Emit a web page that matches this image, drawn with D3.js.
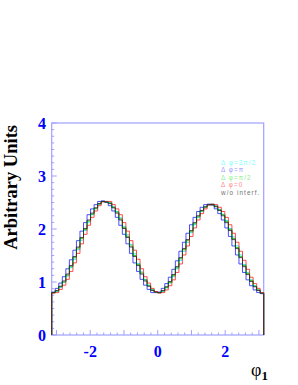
<!DOCTYPE html>
<html><head><meta charset="utf-8">
<script src="https://cdn.jsdelivr.net/npm/d3@7"></script>
<style>body{margin:0;background:#fff}svg{display:block}</style>
</head><body>
<script>
const xTicks = [-2, 0, 2];
const yTicks = [0, 1, 2, 3, 4];
const legendLabels = ["\u0394 \u03c6=3\u03c0/2", "\u0394 \u03c6=\u03c0", "\u0394 \u03c6=\u03c0/2", "\u0394 \u03c6=0", "w/o interf."];
const cyan = [0.80,0.82,0.90,0.99,1.11,1.27,1.43,1.61,1.79,1.97,2.13,2.27,2.38,2.47,2.52,2.52,2.50,2.42,2.33,2.21,2.05,1.89,1.71,1.53,1.35,1.19,1.05,0.94,0.86,0.81,
  0.80,0.82,0.89,0.98,1.10,1.25,1.41,1.58,1.75,1.93,2.08,2.22,2.33,2.41,2.46,2.47,2.44,2.37,2.28,2.16,2.01,1.85,1.68,1.51,1.33,1.18,1.04,0.93,0.85,0.79];
const blue = [0.81,0.88,0.98,1.10,1.25,1.42,1.60,1.78,1.96,2.12,2.27,2.38,2.46,2.52,2.53,2.50,2.44,2.34,2.22,2.07,1.90,1.72,1.54,1.36,1.20,1.05,0.94,0.86,0.80,0.80,
  0.81,0.88,0.97,1.09,1.24,1.40,1.58,1.75,1.92,2.08,2.22,2.33,2.41,2.46,2.47,2.45,2.38,2.29,2.17,2.02,1.86,1.68,1.51,1.34,1.18,1.04,0.93,0.85,0.80,0.78];
const green = [0.80,0.83,0.91,1.00,1.13,1.29,1.46,1.64,1.82,1.99,2.15,2.28,2.39,2.47,2.52,2.51,2.49,2.41,2.32,2.19,2.03,1.86,1.68,1.50,1.33,1.17,1.04,0.93,0.85,0.81,
  0.80,0.83,0.90,0.99,1.12,1.27,1.44,1.61,1.78,1.95,2.10,2.23,2.34,2.41,2.46,2.46,2.43,2.36,2.27,2.14,1.99,1.82,1.65,1.48,1.31,1.16,1.03,0.92,0.85,0.79];
const red = [0.79,0.80,0.86,0.94,1.05,1.20,1.36,1.54,1.72,1.90,2.07,2.22,2.34,2.44,2.51,2.52,2.52,2.46,2.38,2.27,2.12,1.96,1.78,1.60,1.43,1.25,1.10,0.98,0.88,0.82,
  0.79,0.80,0.85,0.93,1.04,1.18,1.34,1.51,1.68,1.86,2.02,2.17,2.29,2.38,2.45,2.47,2.46,2.41,2.33,2.22,2.08,1.92,1.75,1.58,1.41,1.24,1.09,0.97,0.88,0.80];
const black = [0.80,0.84,0.92,1.02,1.15,1.31,1.48,1.66,1.84,2.01,2.17,2.30,2.40,2.48,2.52,2.51,2.48,2.40,2.30,2.17,2.01,1.84,1.66,1.48,1.31,1.15,1.02,0.92,0.84,0.81,
  0.80,0.84,0.91,1.01,1.14,1.29,1.46,1.63,1.80,1.97,2.12,2.25,2.35,2.42,2.46,2.46,2.42,2.35,2.25,2.12,1.97,1.80,1.63,1.46,1.29,1.14,1.01,0.91,0.84,0.79];

const W = 298, H = 385;
const svg = d3.select("body").append("svg").attr("width", W).attr("height", H);
const x = d3.scaleLinear().domain([-Math.PI, Math.PI]).range([51.7, 263.7]);
const y = d3.scaleLinear().domain([0, 4]).range([335, 123]);
const frameCol = "#a0a0ff";

svg.append("rect").attr("x", x.range()[0]).attr("y", y.range()[1])
  .attr("width", x.range()[1] - x.range()[0]).attr("height", y.range()[0] - y.range()[1])
  .attr("fill", "none").attr("stroke", frameCol).attr("stroke-width", 1.2);

const yMinor = d3.range(0, 4.0001, 0.125);
svg.append("g").selectAll("line").data(yMinor).join("line")
  .attr("x1", x.range()[0]).attr("x2", d => x.range()[0] + (Math.abs(d - Math.round(d)) < 1e-6 ? 5 : 2.5))
  .attr("y1", d => y(d)).attr("y2", d => y(d)).attr("stroke", frameCol).attr("stroke-width", 1);
const xMinor = d3.range(-3, 3.0001, 0.2);
svg.append("g").selectAll("line").data(xMinor).join("line")
  .attr("x1", d => x(d)).attr("x2", d => x(d))
  .attr("y1", y.range()[0]).attr("y2", d => y.range()[0] - (Math.abs(d - Math.round(d)) < 1e-6 ? 5 : 2.5))
  .attr("stroke", frameCol).attr("stroke-width", 1);

svg.append("g").selectAll("text").data(yTicks).join("text")
  .attr("x", 46).attr("y", d => y(d) + 5.5).attr("text-anchor", "end")
  .attr("font-family", "Liberation Serif, Times New Roman, serif").attr("font-weight", "bold")
  .attr("font-size", 16).attr("fill", "#0000ff").text(d => d);
svg.append("g").selectAll("text").data(xTicks).join("text")
  .attr("x", d => x(d)).attr("y", 357).attr("text-anchor", "middle")
  .attr("font-family", "Liberation Serif, Times New Roman, serif").attr("font-weight", "bold")
  .attr("font-size", 16).attr("fill", "#0000ff").text(d => d);

svg.append("text").attr("transform", `translate(17,${y(4) + 2}) rotate(-90)`)
  .attr("text-anchor", "end").attr("font-family", "Liberation Serif, Times New Roman, serif")
  .attr("font-weight", "bold").attr("font-size", 18.5).attr("fill", "#000").text("Arbitrary Units");
const xt = svg.append("text").attr("x", 251).attr("y", 376)
  .attr("font-family", "Liberation Serif, Times New Roman, serif").attr("font-size", 18).attr("fill", "#000");
xt.append("tspan").text("\u03c6");
xt.append("tspan").attr("dy", 4).attr("font-size", 13).attr("font-weight", "bold").text("1");

const nb = black.length;
const edges = d3.range(nb + 1).map(i => -Math.PI + i * 2 * Math.PI / nb);
function histPath(vals) {
  const p = d3.path();
  p.moveTo(x(edges[0]), y(0));
  vals.forEach((v, i) => { p.lineTo(x(edges[i]), y(v)); p.lineTo(x(edges[i + 1]), y(v)); });
  p.lineTo(x(edges[nb]), y(0));
  return p.toString();
}
const series = [
  {vals: cyan, col: "#00e5e5"},
  {vals: blue, col: "#2222ff"},
  {vals: green, col: "#00cc00"},
  {vals: red, col: "#ff2222"},
  {vals: black, col: "#222222"}
];
svg.append("g").selectAll("path").data(series).join("path")
  .attr("d", d => histPath(d.vals)).attr("fill", "none")
  .attr("stroke", d => d.col).attr("stroke-width", 1).attr("stroke-opacity", 0.8);

const legCols = ["#7fffff", "#9a9aff", "#8cf08c", "#ff8a8a", "#707070"];
svg.append("g").selectAll("text").data(legendLabels).join("text")
  .attr("x", 221).attr("y", (d, i) => 165 + i * 7.4)
  .attr("font-family", "Liberation Sans, Arial, sans-serif").attr("font-size", 6.3)
  .attr("letter-spacing", 1.1)
  .attr("fill", (d, i) => legCols[i]).text(d => d);
</script>
</body></html>
